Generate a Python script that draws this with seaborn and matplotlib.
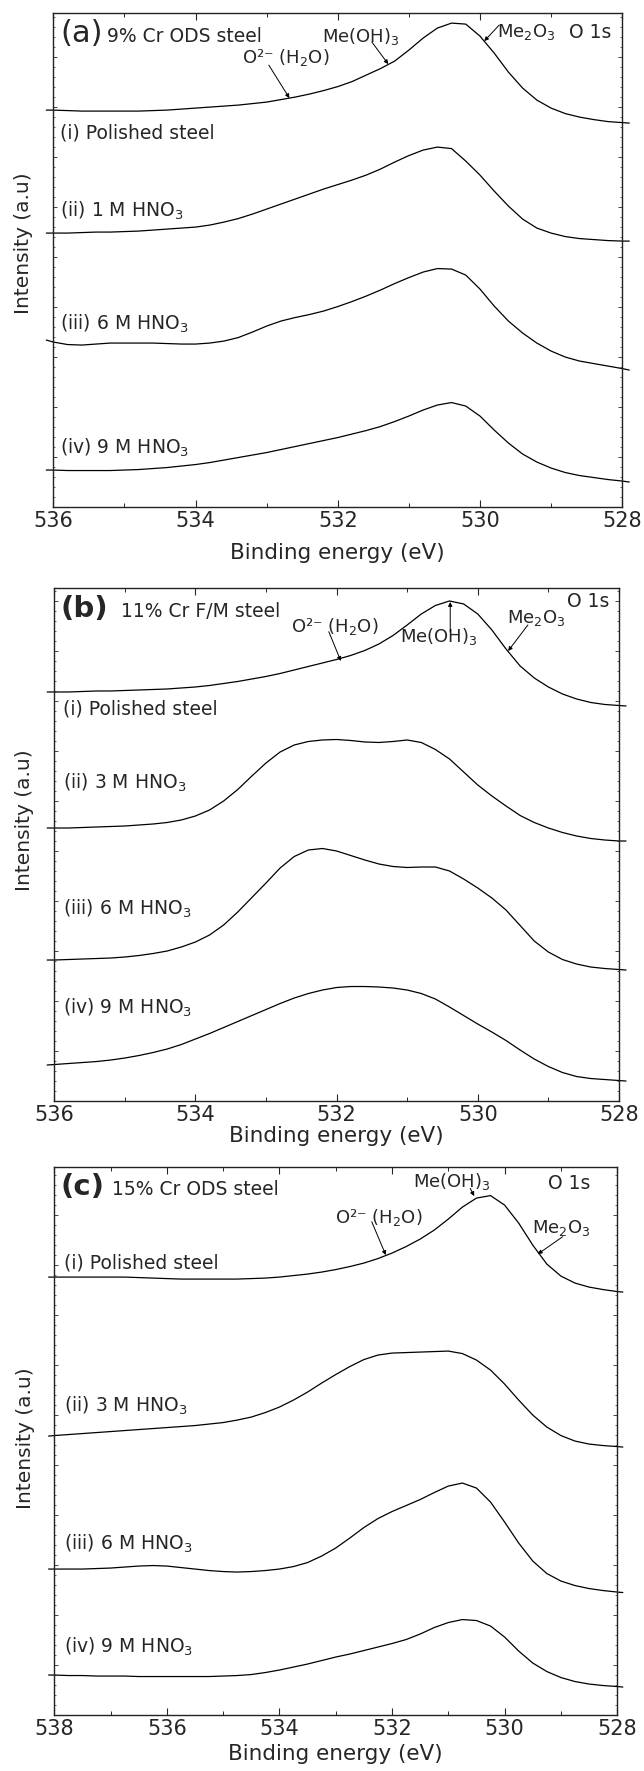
import numpy as np
import pandas as pd
import matplotlib
matplotlib.use("Agg")
import matplotlib.pyplot as plt
from matplotlib.ticker import MultipleLocator, FormatStrFormatter
import seaborn as sns

# binding energy grids (eV)
energy_ab = [536.1, 536.0, 535.8, 535.6, 535.4, 535.2, 535.0, 534.8, 534.6, 534.4, 534.2,
             534.0, 533.8, 533.6, 533.4, 533.2, 533.0, 532.8, 532.6, 532.4, 532.2, 532.0,
             531.8, 531.6, 531.4, 531.2, 531.0, 530.8, 530.6, 530.4, 530.2, 530.0, 529.8,
             529.6, 529.4, 529.2, 529.0, 528.8, 528.6, 528.4, 528.2, 528.0, 527.9]
energy_c = [538.1, 538.0, 537.75, 537.5, 537.25, 537.0, 536.75, 536.5, 536.25, 536.0, 535.75,
            535.5, 535.25, 535.0, 534.75, 534.5, 534.25, 534.0, 533.75, 533.5, 533.25, 533.0,
            532.75, 532.5, 532.25, 532.0, 531.75, 531.5, 531.25, 531.0, 530.75, 530.5, 530.25,
            530.0, 529.75, 529.5, 529.25, 529.0, 528.75, 528.5, 528.25, 528.0, 527.9]

# (a) 9% Cr ODS steel - stacked O 1s intensities (a.u.)
a_polished = [397, 397, 396.5, 396, 396, 396, 396, 396, 396.5, 397, 398, 399, 400, 401, 402,
              403.5, 405, 407.5, 410, 413, 416.5, 420.5, 425.5, 432, 438.5, 446, 457, 469,
              479, 484, 483, 471, 454, 435, 419, 407, 399, 393.5, 390, 387.5, 385.5, 384.5, 384]
a_1M = [274, 274, 274, 274.5, 275, 275, 275.5, 276, 277, 278, 279, 280, 282, 285, 288.5, 293,
        298, 303, 308, 313, 318, 322.5, 327, 332, 338, 345, 351.5, 357, 360, 358.5, 346, 332,
        316, 301, 288, 279, 274, 270.5, 268.5, 267.5, 266.5, 266, 266]
a_6M = [167, 165, 162.5, 162, 163, 164, 164, 164, 164, 163.5, 163, 163, 164, 166, 169.5, 175,
        181, 186, 189.5, 192.5, 196, 200.5, 205.5, 211, 217, 223.5, 229.5, 235, 238.5, 238,
        232, 218, 201, 186, 174, 164, 156, 150, 146, 143.5, 141, 138.5, 137]
a_9M = [37, 37, 36.5, 36.5, 36.5, 36.5, 37, 37.5, 38.5, 39.5, 41, 42.5, 44.5, 47, 49.5, 52,
        54.5, 57.5, 60.5, 63.5, 66.5, 69.5, 73, 76.5, 80.5, 85.5, 91, 97, 102, 104.5, 101, 91,
        77, 64, 53, 45, 39, 34.5, 31.5, 29.5, 27.5, 26, 25]

# (b) 11% Cr F/M steel
b_polished = [409, 409, 409, 409.5, 410, 410, 410.5, 411, 411.5, 412, 413, 414, 415.5, 417.5,
              419.5, 422, 424.5, 427.5, 431, 434.5, 438, 441.5, 445.5, 450.5, 457, 465.5, 476,
              487, 495.5, 500, 497, 487, 471, 452, 435, 423, 414, 407, 402, 398.5, 396.5,
              395.5, 395]
b_3M = [273, 273, 273, 273.5, 274, 274.5, 275, 276, 277, 278.5, 281, 285, 291, 300, 311.5, 325,
        338, 349, 356, 359.5, 361, 361.5, 360.5, 359, 358.5, 359.5, 361, 358.5, 351.5, 342,
        329, 316, 305, 295, 285.5, 278.5, 273, 268.5, 265, 262.5, 261, 260, 260]
b_6M = [141, 141, 141.5, 142, 142.5, 143, 144, 145.5, 147.5, 150, 154, 159, 166, 176, 189,
        203.5, 218, 233, 244.5, 251, 252.5, 250, 245.5, 241, 237, 234.5, 233.5, 234, 234, 230,
        222, 213, 203, 191, 175.5, 160, 149, 141.5, 137, 134, 132.5, 131.5, 131]
b_9M = [36, 36.5, 37.5, 38.5, 39.5, 41, 43, 45.5, 48.5, 52, 56.5, 62, 67.5, 73.5, 79.5, 85.5,
        91.5, 97.5, 103, 107.5, 111, 113.5, 114.5, 114.5, 114, 113, 111, 107.5, 102, 94, 85.5,
        77, 69, 60.5, 51, 42, 34.5, 28.5, 24.5, 22.5, 21.5, 20.5, 20]

# (c) 15% Cr ODS steel
c_polished = [438, 438, 438, 438, 438, 438, 438, 437.5, 437, 436.5, 436, 436, 436, 436, 436,
              436.5, 437, 438, 439.5, 441, 443, 445.5, 448.5, 452, 456.5, 462, 468.5, 476, 485,
              496, 508, 517, 519.5, 510, 492, 470, 451, 439, 432, 428, 425.5, 423.5, 423]
c_3M = [279, 279.5, 280.5, 281.5, 282.5, 283.5, 284.5, 285.5, 286.5, 287.5, 288.5, 289.5, 291,
        292.5, 295, 298, 302.5, 308, 315, 323, 332, 340.5, 348.5, 355.5, 360, 362, 362.5, 363,
        363.5, 364, 361.5, 355, 345, 331, 315, 300, 288, 279.5, 274, 271, 269.5, 268.5, 268]
c_6M = [146, 146, 146, 146, 146.5, 147, 148, 149, 149.5, 149, 147.5, 146, 144.5, 143.5, 143,
        143.5, 144.5, 146, 148.5, 152.5, 159, 167, 177, 187.5, 196.5, 203.5, 209.5, 215.5,
        222.5, 229, 232, 227, 213, 193, 172, 154, 141.5, 134, 129.5, 126.5, 124.5, 123, 122.5]
c_9M = [40, 40, 39.5, 39.5, 39, 39, 39, 38.5, 38.5, 38.5, 38.5, 38.5, 38.5, 39, 39.5, 40.5,
        42.5, 45, 48, 51, 54.5, 58, 61, 64.5, 68, 71.5, 75.5, 81, 87.5, 92.5, 95.5, 94.5, 89,
        78, 64, 52, 43.5, 37.5, 33.5, 31, 29.5, 28.5, 28]

sns.set_style("ticks")
plt.rcParams["font.family"] = ["DejaVu Sans"]
plt.rcParams["mathtext.default"] = "regular"

fig = plt.figure(figsize=(6.44, 17.71), dpi=100)

water = "O\u00b2\u207b (H$_2$O)"
panels = [
    dict(rect=[0.0829, 0.7137, 0.8832, 0.2789], energy=energy_ab, xlim=(536, 528), ylim=(0, 494),
         curves=[a_polished, a_1M, a_6M, a_9M], letter="(a)", bold=False, letter_size=22,
         title="9% Cr ODS steel", title_xy=(535.25, 465.3), letter_xy=(535.9, 465.3),
         labels=["(i) Polished steel", "(ii) 1 M HNO$_3$", "(iii) 6 M HNO$_3$", "(iv) 9 M HNO$_3$"],
         label_x=535.9, label_y=[368.7, 290.3, 177, 53.7],
         o1s=(528.75, 468.7),
         notes=[("Me(OH)$_3$", (532.22, 465.3), (531.52, 465), (531.29, 443)),
                ("Me$_2$O$_3$", (529.76, 470.3), (529.73, 482), (529.94, 466)),
                (water, (533.35, 443.7), (532.97, 442), (532.68, 409))],
         ylab_y=0.534, labelpad=9),
    dict(rect=[0.0842, 0.3783, 0.8769, 0.2897], energy=energy_ab, xlim=(536, 528), ylim=(0, 513),
         curves=[b_polished, b_3M, b_6M, b_9M], letter="(b)", bold=True, letter_size=21,
         title="11% Cr F/M steel", title_xy=(535.06, 484), letter_xy=(535.91, 484),
         labels=["(i) Polished steel", "(ii) 3 M HNO$_3$", "(iii) 6 M HNO$_3$", "(iv) 9 M HNO$_3$"],
         label_x=535.87, label_y=[386, 312.7, 186, 87.7],
         o1s=(528.74, 494.3),
         notes=[("Me(OH)$_3$", (531.10, 459.3), (530.39, 469), (530.39, 499)),
                ("Me$_2$O$_3$", (529.58, 478), (529.29, 476), (529.57, 450)),
                (water, (532.64, 469.3), (532.11, 469.3), (531.94, 440))],
         ylab_y=0.548, labelpad=1),
    dict(rect=[0.0842, 0.0316, 0.8742, 0.3094], energy=energy_c, xlim=(538, 528), ylim=(0, 548),
         curves=[c_polished, c_3M, c_6M, c_9M], letter="(c)", bold=True, letter_size=21,
         title="15% Cr ODS steel", title_xy=(536.98, 520), letter_xy=(537.89, 520),
         labels=["(i) Polished steel", "(ii) 3 M HNO$_3$", "(iii) 6 M HNO$_3$", "(iv) 9 M HNO$_3$"],
         label_x=537.83, label_y=[446.7, 303.3, 165.7, 62.3],
         o1s=(529.23, 525.7),
         notes=[("Me(OH)$_3$", (531.63, 528.3), (530.61, 526.7), (530.54, 519)),
                (water, (533.02, 491.7), (532.36, 493.3), (532.11, 460)),
                ("Me$_2$O$_3$", (529.52, 481.7), (528.97, 478.3), (529.41, 461))],
         ylab_y=0.505, labelpad=4),
]

for p in panels:
    ax = fig.add_axes(p["rect"])
    for vals in p["curves"]:
        df = pd.DataFrame({"energy": p["energy"], "intensity": vals})
        sns.lineplot(data=df, x="energy", y="intensity", ax=ax, color="black",
                     lw=0.9, clip_on=False)
    ax.set_xlim(*p["xlim"])
    ax.set_ylim(*p["ylim"])

    ax.xaxis.set_major_locator(MultipleLocator(2))
    ax.xaxis.set_minor_locator(MultipleLocator(1))
    ax.xaxis.set_major_formatter(FormatStrFormatter("%d"))
    ax.yaxis.set_major_locator(MultipleLocator(50))
    ax.yaxis.set_minor_locator(MultipleLocator(10))
    ax.tick_params(axis="x", which="both", direction="in", top=True, bottom=True,
                   labelsize=15, pad=2.5)
    ax.tick_params(axis="x", which="major", length=5, width=0.8)
    ax.tick_params(axis="x", which="minor", length=3, width=0.7)
    ax.tick_params(axis="y", which="both", direction="in", left=True, right=True,
                   labelleft=False)
    ax.tick_params(axis="y", which="major", length=3, width=0.6)
    ax.tick_params(axis="y", which="minor", length=1.5, width=0.5)
    for s in ax.spines.values():
        s.set_linewidth(1.0)
        s.set_color("#222222")

    ax.set_xlabel("Binding energy (eV)", fontsize=15.5, labelpad=p["labelpad"])
    ax.set_ylabel("Intensity (a.u)", fontsize=14.5)
    ax.yaxis.set_label_coords(-0.035, p["ylab_y"])

    ax.text(*p["letter_xy"], p["letter"], fontsize=p["letter_size"], va="baseline", ha="left",
            fontweight="bold" if p["bold"] else "normal")
    ax.text(*p["title_xy"], p["title"], fontsize=13.5, va="baseline", ha="left")
    ax.text(*p["o1s"], "O 1s", fontsize=13.5, va="baseline", ha="left")
    for lab, ly in zip(p["labels"], p["label_y"]):
        ax.text(p["label_x"], ly, lab, fontsize=13.5, va="baseline", ha="left")
    for txt, txy, start, end in p["notes"]:
        ax.text(*txy, txt, fontsize=13, va="baseline", ha="left")
        ax.annotate("", xy=end, xytext=start,
                    arrowprops=dict(arrowstyle="-|>", color="black", lw=0.7,
                                    mutation_scale=6, shrinkA=0, shrinkB=0))

fig.savefig("out.png", dpi=100)
